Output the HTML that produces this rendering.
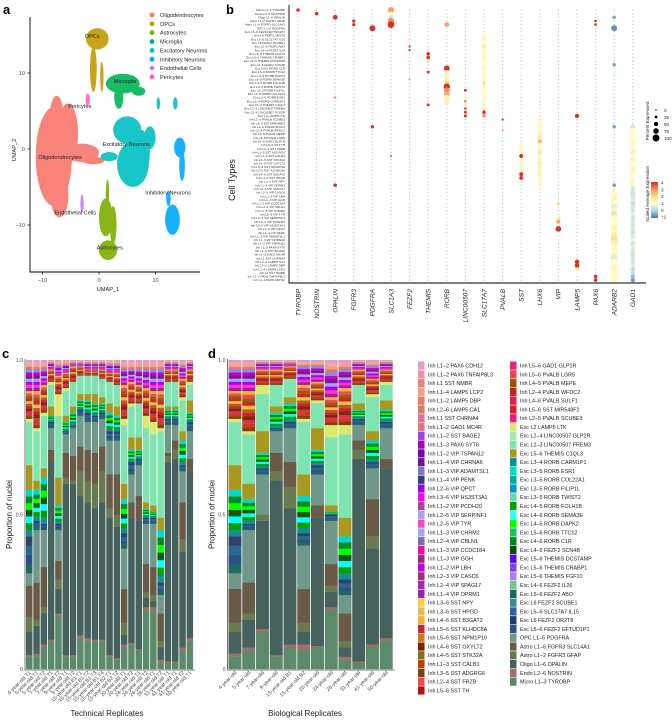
<!DOCTYPE html>
<html><head><meta charset="utf-8">
<style>
html,body{margin:0;padding:0;background:#fff;}
svg{display:block;font-family:"Liberation Sans",sans-serif;}
</style></head>
<body>
<svg id="fig" width="672" height="720" viewBox="0 0 672 720" xmlns="http://www.w3.org/2000/svg">
<g id="pa"></g>
<g id="pb"></g>
<g id="pc"></g>
<g id="pd"></g>
<g id="pl"></g>
</svg>
<script>
// ---------------- DATA ----------------
// Panel a: UMAP clusters as ellipses [u, v, ru, rv] in UMAP units
const clusterNames = ["Oligodendrocytes","OPCs","Astrocytes","Microglia","Excitatory Neurons","Inhibitory Neurons","Endothelial Cells","Pericytes"];
const clusterColors = ["#f8766d","#c49a00","#7cae00","#00b554","#00bfc4","#00a9ff","#c77cff","#ff61cc"];
const shapesOligo = [[-8,-1,3.2,6.5],[-5.5,2,1.8,4],[-3,-0.5,3,1.2],[-7,-6,1.6,3],[-1,-1.5,2,0.5],[-7.5,4.5,1.2,2.5]];
const shapesOPC = [[-0.3,14.5,2,1.4],[-1,10.5,0.6,3],[0.5,9.5,0.3,2]];
const shapesAstro = [[1.6,-13.3,1.6,1.3],[1.2,-9,1.2,2.5],[2.5,-10,0.6,2.5],[1.5,-6,0.3,2]];
const shapesMicro = [[4.2,8.6,3,1.3],[3.5,6.8,0.8,1.5],[7,7.6,1.2,0.6]];
const shapesExc = [[6,-2,2.8,3],[5,2.5,2.5,1.8],[7.5,-0.5,1.5,3],[10.5,6,0.3,0.8],[13.5,6,0.4,0.8],[1.8,-1,1.5,0.6],[9,1.5,1,1.5]];
const shapesInh = [[13,-9.3,1.3,2],[14.3,0.2,1,1.3],[14.7,-2.2,0.5,2],[12.3,-6.5,0.4,1]];
const shapesEndo = [[-3,-7.2,0.3,1.2]];
const shapesPeri = [[-2,6.5,0.4,0.8]];
const clusterLabelU = [-6.9,-1.2,1.9,4.6,4.8,12.2,-4.2,-3.4];
const clusterLabelV = [-1.3,14.6,-13.2,8.7,0.4,-6,-8.6,5.4];
const umapXTicks = [-10,0,10];
const umapYTicks = [10,0,-10];

// Panel b: dot plot
const genes = ["TYROBP","NOSTRIN","OPALIN","FGFR3","PDGFRA","SLC1A3","FEZF2","THEMIS","RORB","LINC00507","SLC17A7","PVALB","SST","LHX6","VIP","LAMP5","PAX6","ADARB2","GAD1"];
const highlightRows = ["Exc L4-5 FEZF2 SCN4B","Exc L4-5 RORB FOLH1B","Exc L3-5 RORB ESR1","Inh L4-6 PVALB SULF1","Inh L1-4 VIP OPRM1"];
// [row, percentExpressed, scaledExpression]
const dotsTYROBP=[[0,40,4]];
const dotsNOSTRIN=[[1,40,4]];
const dotsOPALIN=[[2,60,4],[24,20,3],[48,40,4]];
const dotsFGFR3=[[3,35,4],[4,35,4]];
const dotsPDGFRA=[[5,80,4],[32,35,4],[20,15,1.5],[10,15,1.8]];
const dotsSLC1A3=[[0,80,2.8],[1,40,1],[2,60,0.5],[3,85,3],[4,90,4],[22,25,1],[40,20,-0.6]];
const dotsFEZF2=[[8,20,2],[10,20,4],[11,20,4],[19,15,3]];
const dotsTHEMIS=[[12,40,4],[13,40,4],[14,30,2],[17,30,4],[26,30,4]];
const dotsRORB=[[4,60,2.8],[16,75,4],[17,50,1.5],[18,50,1.5],[19,55,1.5],[20,60,2],[21,85,4],[22,75,3],[23,70,2.8],[24,75,1.5],[25,70,1.5]];
const dotsLINC00507=[[22,30,4],[25,30,3],[27,30,3.5],[28,30,4],[29,30,4]];
const dotsSLC17A7=[[7,50,1.2],[8,50,1.4],[9,45,1.1],[10,50,1.6],[11,45,1.2],[12,50,1.3],[13,45,1.5],[14,50,1.2],[15,45,1.1],[16,50,1.3],[17,45,1.2],[18,50,1.1],[19,45,1.3],[20,45,2],[21,50,1.2],[22,45,1.1],[23,50,1],[24,45,1.2],[25,45,1.1],[26,45,1.3],[27,45,1.5],[28,40,4],[29,40,3]];
const dotsPVALB=[[30,20,4],[33,15,3]];
const dotsSST=[[37,35,1.3],[38,40,1.2],[39,40,1.4],[40,45,4],[41,40,1.2],[42,35,0.8],[43,40,1.3],[44,40,1.5],[45,45,4],[46,45,4],[47,35,1.2]];
const dotsLHX6=[[30,45,1.3],[31,45,1.2],[32,50,1.4],[33,45,1.2],[34,45,1.5],[35,50,1.6],[36,50,2.5],[37,45,1.3],[38,45,1.2],[39,45,1.8],[40,45,1.3],[41,45,1.5],[42,50,1.6],[43,45,1.4],[44,45,1.3],[45,45,1.5],[46,45,1.3],[47,45,1.4],[48,40,1.2],[71,20,1.2]];
const dotsVIP=[[53,40,2],[57,40,1.8],[58,45,2.8],[60,75,4],[61,20,1.2]];
const dotsLAMP5=[[29,50,4],[58,20,1],[69,55,4],[70,55,4],[71,40,1.5],[72,30,1.2]];
const dotsPAX6=[[3,25,4],[4,25,4],[73,40,4],[74,40,4]];
const dotsADARB2=[[2,40,-0.5],[5,80,-0.7],[15,40,-0.5],[32,40,-0.5],[48,40,-0.6],[50,90,1.2],[51,90,1.1],[52,90,1.3],[53,90,1],[54,85,0.6],[55,90,1.2],[56,90,0.5],[57,90,1.2],[58,85,1],[59,90,1.1],[60,90,1.3],[61,90,1.2],[62,90,1.6],[63,90,1.9],[64,90,1.5],[65,90,1.2],[66,90,1.1],[67,90,1.2],[68,90,0.6],[69,90,1],[70,90,1.1],[71,90,1.3],[72,90,1.2],[73,90,1.1],[74,90,1.2]];
const dotsGAD1=[[32,60,0.4],[33,60,1.1],[34,60,1.2],[35,60,1],[36,60,1.3],[37,60,1.2],[38,60,0.9],[39,60,1.6],[40,60,1.1],[41,60,0.7],[42,60,1],[43,60,1.2],[44,60,1.5],[45,60,1.1],[46,60,1],[47,60,0.8],[48,60,1.2],[49,55,0.4],[50,55,0.3],[51,60,0.5],[52,55,0.6],[53,55,0.2],[54,60,0.5],[55,55,0.4],[56,55,0.7],[57,55,0.3],[58,55,0.5],[59,55,0.4],[60,55,0.6],[61,55,0.3],[62,55,0.5],[63,55,0.8],[64,55,0.4],[65,55,0.6],[66,55,0.5],[67,55,0.3],[68,55,0.5],[69,55,0.4],[70,55,0.6],[71,55,0.2],[72,55,0.3],[73,50,-0.3],[74,50,-0.6]];
const dotSets=[dotsTYROBP,dotsNOSTRIN,dotsOPALIN,dotsFGFR3,dotsPDGFRA,dotsSLC1A3,dotsFEZF2,dotsTHEMIS,dotsRORB,dotsLINC00507,dotsSLC17A7,dotsPVALB,dotsSST,dotsLHX6,dotsVIP,dotsLAMP5,dotsPAX6,dotsADARB2,dotsGAD1];
const pctLegend=[0,25,50,75,100];
const exprLegend=[4,3,2,1,0,-1];

// Legend cell types (order as in legend)
const cellTypes=["Inh L1\u20132 PAX6 CDH12","Inh L1\u20132 PAX6 TNFAIP8L3","Inh L1 SST NMBR","Inh L1\u20134 LAMP5 LCP2","Inh L1\u20132 LAMP5 DBP","Inh L2\u20136 LAMP5 CA1","Inh L1 SST CHRNA4","Inh L1\u20132 GAD1 MC4R","Inh L1\u20132 SST BAGE2","Inh L1\u20133 PAX6 SYT6","Inh L1\u20132 VIP TSPAN12","Inh L1\u20134 VIP CHRNA6","Inh L1\u20133 VIP ADAMTSL1","Inh L1\u20134 VIP PENK","Inh L2\u20136 VIP QPCT","Inh L3\u20136 VIP HS3ST3A1","Inh L1\u20132 VIP PCDH20","Inh L2\u20135 VIP SERPINF1","Inh L2\u20135 VIP TYR","Inh L1\u20133 VIP CHRM2","Inh L2\u20134 VIP CBLN1","Inh L1\u20133 VIP CCDC184","Inh L1\u20133 VIP GGH","Inh L1\u20132 VIP LBH","Inh L2\u20133 VIP CASC6","Inh L2\u20134 VIP SPAG17","Inh L1\u20134 VIP OPRM1","Inh L3\u20136 SST NPY","Inh L3\u20136 SST HPGD","Inh L4\u20136 SST B3GAT2","Inh L5\u20136 SST KLHDC8A","Inh L5\u20136 SST NPM1P10","Inh L4\u20136 SST GXYLT2","Inh L4\u20135 SST STK32A","Inh L1\u20133 SST CALB1","Inh L3\u20135 SST ADGRG6","Inh L2\u20134 SST FRZB","Inh L5\u20136 SST TH",
"Inh L5\u20136 GAD1 GLP1R","Inh L5\u20136 PVALB LGR5","Inh L4\u20135 PVALB MEPE","Inh L2\u20134 PVALB WFDC2","Inh L4\u20136 PVALB SULF1","Inh L5\u20136 SST MIR548F2","Inh L2\u20135 PVALB SCUBE3","Exc L2 LAMP5 LTK","Exc L2\u20134 LINC00507 GLP2R","Exc L2\u20133 LINC00507 FREM3","Exc L5\u20136 THEMIS C1QL3","Exc L3\u20134 RORB CARM1P1","Exc L3\u20135 RORB ESR1","Exc L3\u20135 RORB COL22A1","Exc L3\u20135 RORB FILIP1L","Exc L3\u20135 RORB TWIST2","Exc L4\u20135 RORB FOLH1B","Exc L4\u20136 RORB SEMA3E","Exc L4\u20135 RORB DAPK2","Exc L5\u20136 RORB TTC12","Exc L4\u20136 RORB C1R","Exc L4\u20135 FEZF2 SCN4B","Exc L5\u20136 THEMIS DCSTAMP","Exc L5\u20136 THEMIS CRABP1","Exc L5\u20136 THEMIS FGF10","Exc L4\u20136 FEZF2 IL26","Exc L5\u20136 FEZF2 ABO","Exc L6 FEZF2 SCUBE1","Exc L5\u20136 SLC17A7 IL15","Exc L6 FEZF2 OR2T8","Exc L5\u20136 FEZF2 EFTUD1P1","OPC L1\u20136 PDGFRA","Astro L1\u20136 FGFR3 SLC14A1","Astro L1\u20132 FGFR3 GFAP","Oligo L1\u20136 OPALIN","Endo L2\u20136 NOSTRIN","Micro L1\u20133 TYROBP"];
const cellColors=["#d9a0c8","#f48fb1","#e8827a","#f5a080","#f47860","#d08060","#e070a0","#f07080","#a040f0","#a000b0","#7000c0","#7a1090","#7878c0","#3a3a7a","#a000f0","#ff00ff","#b040a0","#b0a0f0","#ff40c0","#a0a8f8","#7a70b0","#ff00a0","#b02080","#c000e0","#a03080","#b020c0","#a020a0","#f8d040","#d8c060","#f8b030","#d02040","#c88010","#802000","#807010","#c04000","#804010","#f04848","#b01010",
"#f02080","#e84850","#a05000","#c02818","#e02050","#e02020","#f01880","#d8ea70","#a8e8a8","#80e4b0","#a89820","#00909a","#00e0c8","#00b0a8","#0098c8","#70d8b0","#00a000","#30ffff","#00ff00","#20c060","#008a20","#0a4a0a","#6000f0","#8040f0","#b080f0","#70c890","#1a6a60","#3a8a9a","#3060a0","#203a6a","#30508a","#70988a","#6a5a48","#6a7a50","#46625e","#9a7068","#5a8a6a"];

// Panel c/d stacked bars: cumulative share (top of each group, bottom to top)
const techLabels=["4-year-old T1","5-year-old T1","5-year-old T2","7-year-old T1","7-year-old T2","9-year-old T1","9-year-old T2","15-year-old B1 T1","15-year-old B1 T2","15-year-old B1 T3","15-year-old B1 T4","15-year-old B2 T1","15-year-old B2 T2","20-year-old T1","20-year-old T2","24-year-old T1","24-year-old T2","26-year-old T1","26-year-old T2","31-year-old T1","41-year-old T1","41-year-old T2","50-year-old T1"];
const cMicro=[.04,.04,.07,.09,.17,.04,.04,.10,.09,.09,.09,.04,.03,.07,.08,.06,.19,.19,.02,.02,.02,.06,.09];
const cEndo=[.045,.05,.08,.095,.18,.045,.045,.11,.10,.095,.095,.045,.035,.08,.085,.065,.20,.20,.03,.025,.025,.07,.10];
const cOligo=[.12,.14,.18,.67,.26,.60,.60,.56,.54,.52,.54,.49,.46,.11,.49,.48,.23,.22,.07,.67,.68,.38,.64];
const cAstroG=[.17,.16,.20,.67,.29,.62,.61,.64,.61,.60,.64,.52,.50,.15,.49,.48,.25,.24,.09,.69,.71,.42,.64];
const cAstroS=[.27,.28,.33,.71,.35,.70,.69,.72,.71,.70,.72,.63,.63,.26,.54,.56,.34,.33,.18,.70,.74,.54,.68];
const cOPC=[.31,.45,.45,.78,.45,.76,.78,.82,.80,.80,.81,.74,.74,.39,.63,.66,.47,.47,.24,.79,.79,.64,.77];
const cDeep=[.43,.48,.47,.80,.47,.77,.79,.84,.83,.82,.83,.77,.77,.44,.67,.68,.49,.49,.28,.81,.81,.66,.80];
const cGreen=[.58,.58,.62,.82,.53,.80,.83,.87,.87,.86,.86,.83,.82,.55,.71,.71,.52,.51,.45,.84,.84,.74,.83];
const cOlive=[.66,.61,.65,.85,.62,.82,.85,.89,.89,.89,.88,.86,.85,.60,.75,.75,.54,.53,.49,.85,.85,.77,.87];
const cFrem3=[.80,.77,.82,.92,.82,.90,.93,.95,.95,.95,.94,.93,.92,.79,.85,.86,.78,.76,.77,.93,.93,.87,.92];
const cLamp=[.81,.78,.83,.93,.89,.91,.93,.95,.95,.95,.94,.93,.92,.81,.86,.86,.82,.80,.78,.93,.93,.88,.93];
const cRed=[.90,.90,.92,.97,.95,.96,.98,.98,.97,.97,.97,.96,.96,.92,.93,.92,.91,.90,.90,.97,.97,.94,.97];
const cPurple=[.97,.97,.97,.99,.98,.985,.99,.99,.99,.99,.99,.985,.985,.97,.97,.97,.97,.97,.97,.99,.99,.98,.99];

const bioLabels=["4-year-old","5-year-old","7-year-old","9-year-old","15-year-old B1","15-year-old B2","20-year-old","24-year-old","26-year-old","31-year-old","41-year-old","50-year-old"];
const dMicro=[.04,.06,.12,.04,.07,.06,.07,.19,.03,.02,.07,.09];
const dEndo=[.05,.07,.13,.045,.08,.08,.075,.20,.04,.025,.08,.10];
const dOligo=[.12,.16,.48,.61,.52,.12,.49,.25,.07,.68,.39,.65];
const dAstroG=[.15,.18,.50,.64,.59,.15,.49,.27,.09,.71,.43,.65];
const dAstroS=[.26,.28,.50,.70,.67,.26,.53,.34,.18,.74,.55,.68];
const dOPC=[.31,.45,.63,.77,.78,.40,.63,.48,.24,.79,.65,.78];
const dDeep=[.43,.47,.65,.78,.80,.44,.66,.50,.29,.81,.67,.80];
const dGreen=[.58,.55,.70,.83,.86,.56,.71,.51,.43,.84,.74,.84];
const dOlive=[.66,.60,.77,.85,.88,.63,.78,.53,.49,.86,.77,.87];
const dFrem3=[.80,.76,.89,.92,.94,.80,.86,.75,.76,.92,.88,.92];
const dLamp=[.81,.77,.92,.92,.94,.81,.87,.79,.79,.92,.89,.93];
const dRed=[.90,.90,.97,.97,.98,.92,.93,.88,.91,.97,.94,.97];
const dPurple=[.97,.97,.99,.99,.99,.98,.98,.96,.97,.99,.98,.99];
const propTicks=[0,0.5,1.0];

// ---------------- HELPERS ----------------
const NS="http://www.w3.org/2000/svg";
function mk(parent,tag,attrs,txt){const e=document.createElementNS(NS,tag);for(const k in attrs)e.setAttribute(k,attrs[k]);if(txt!==undefined)e.textContent=txt;parent.appendChild(e);return e;}
const fig=document.getElementById('fig');

// panel letters
[["a",3,14],["b",226,14],["c",2,358],["d",208,358]].forEach(p=>{
  const t=mk(fig,'text',{x:p[1],y:p[2],'font-size':13,'font-weight':'bold',fill:'#000'},p[0]);
  
  
});

// ---------------- PANEL A ----------------
(function(){
  const g=document.getElementById('pa');
  const ux=u=>99+5.65*u, vy=v=>149-7.6*v;
  const sets=[shapesOligo,shapesOPC,shapesAstro,shapesMicro,shapesExc,shapesInh,shapesEndo,shapesPeri];
  sets.forEach((s,ci)=>{
    const cg=mk(g,'g',{fill:clusterColors[ci],opacity:0.9});
    
    
    s.forEach(e=>{mk(cg,'ellipse',{cx:ux(e[0]),cy:vy(e[1]),rx:e[2]*5.65,ry:e[3]*7.6});});
  });
  clusterNames.forEach((n,i)=>{
    const t=mk(g,'text',{x:ux(clusterLabelU[i]),y:vy(clusterLabelV[i]),'font-size':5.6,'text-anchor':'middle',fill:'#222'},n);
    
    
  });
  const ax=mk(g,'path',{d:'M30,17 V272 H200',stroke:'#000','stroke-width':0.9,fill:'none'});
  
  
  umapXTicks.forEach(t=>{mk(g,'line',{x1:ux(t),x2:ux(t),y1:272,y2:274.5,stroke:'#000','stroke-width':0.7});
    const l=mk(g,'text',{x:ux(t),y:282,'font-size':5.6,'text-anchor':'middle',fill:'#444'},t===-10?'\u221210':t);
    
    });
  umapYTicks.forEach(t=>{mk(g,'line',{x1:27.5,x2:30,y1:vy(t),y2:vy(t),stroke:'#000','stroke-width':0.7});
    const l=mk(g,'text',{x:25,y:vy(t)+2,'font-size':5.6,'text-anchor':'end',fill:'#444'},t===-10?'\u221210':t);
    
    });
  const xt=mk(g,'text',{x:108,y:291,'font-size':5.6,'text-anchor':'middle',fill:'#222'},'UMAP_1');
  
  
  const yt=mk(g,'text',{x:0,y:0,'font-size':5.6,'text-anchor':'middle',fill:'#222',transform:'translate(16,150) rotate(-90)'},'UMAP_2');
  
  
  clusterNames.forEach((n,i)=>{
    const le=mk(g,'g',{});
    
    
    const y=15+8.85*i;
    mk(le,'circle',{cx:152,cy:y,r:2.4,fill:clusterColors[i]});
    mk(le,'text',{x:160,y:y+2,'font-size':5.6,fill:'#222'},n);
  });
})();

// ---------------- PANEL B ----------------
(function(){
  const g=document.getElementById('pb');
  const rowNames=cellTypes.slice().reverse();
  const colX=i=>298+18.6*i, rowY=r=>10+3.65*r;
  const stops=[[-1,[69,117,180]],[0,[171,213,233]],[1,[255,255,200]],[2,[254,224,139]],[3,[252,141,89]],[4,[215,48,39]]];
  function col(v){v=Math.max(-1,Math.min(4,v));for(let i=0;i<stops.length-1;i++){const a=stops[i],b=stops[i+1];if(v<=b[0]){const t=(v-a[0])/(b[0]-a[0]);return 'rgb('+a[1].map((c,k)=>Math.round(c+(b[1][k]-c)*t)).join(',')+')';}}return 'rgb(215,48,39)';}
  const rad=p=>0.55+p/100*3.1;
  rowNames.forEach((n,r)=>{
    const hi=highlightRows.indexOf(n)>=0;
    if(hi) mk(g,'rect',{x:252,y:rowY(r)-1.6,width:33,height:3.2,fill:'#f4d0d0'});
    const t=mk(g,'text',{x:285,y:rowY(r)+1.1,'font-size':3.1,'text-anchor':'end',fill:hi?'#e00000':'#333','font-weight':hi?'bold':'normal'},n);
    
    
  });
  // background dots
  const bg=mk(g,'g',{fill:'#9cc7e2'});
  
  
  genes.forEach((gn,c)=>{rowNames.forEach((n,r)=>{mk(bg,'circle',{cx:colX(c),cy:rowY(r),r:0.6});});});
  dotSets.forEach((set,c)=>{
    set.forEach(d=>{
      const el=mk(g,'circle',{cx:colX(c),cy:rowY(d[0]),r:rad(d[1]),fill:col(d[2])});
      
      
    });
  });
  const ax=mk(g,'path',{d:'M289,5 V283 H646',stroke:'#000','stroke-width':0.9,fill:'none'});
  
  
  genes.forEach((gn,c)=>{
    const t=mk(g,'text',{x:0,y:0,'font-size':6.6,'font-style':'italic','text-anchor':'end',fill:'#222',transform:'translate('+(colX(c)+2.3)+',289) rotate(-90)'},gn);
    
    
  });
  const yt=mk(g,'text',{x:0,y:0,'font-size':9,'text-anchor':'middle',fill:'#222',transform:'translate(235,180) rotate(-90)'},'Cell Types');
  
  
  // percent legend
  const pl=mk(g,'g',{});
  
  
  mk(pl,'text',{x:0,y:0,'font-size':4.6,'text-anchor':'middle',fill:'#222',transform:'translate(649,121) rotate(-90)'},'Percent Expressed');
  pctLegend.forEach((p,i)=>{const y=110+7*i;mk(pl,'circle',{cx:656,cy:y,r:rad(p)*0.9+0.2,fill:'#000'});mk(pl,'text',{x:664,y:y+1.8,'font-size':4.6,fill:'#222'},p);});
  // colour legend
  const cl=mk(g,'g',{});
  
  
  mk(cl,'text',{x:0,y:0,'font-size':4.6,'text-anchor':'middle',fill:'#222',transform:'translate(649,194) rotate(-90)'},'Scaled Average Expression');
  const defs=mk(g,'defs',{});const lg=mk(defs,'linearGradient',{id:'cg',x1:0,y1:1,x2:0,y2:0});
  stops.forEach(s=>mk(lg,'stop',{offset:((s[0]+1)/5),'stop-color':'rgb('+s[1].join(',')+')'}));
  const y4=183,y1=217,vy=v=>y1-(v+1)/5*(y1-y4);
  mk(cl,'rect',{x:651,y:y4-1,width:7,height:y1-y4+2,fill:'url(#cg)'});
  exprLegend.forEach(v=>{mk(cl,'text',{x:661,y:vy(v)+1.6,'font-size':4.6,fill:'#222'},v<0?'\u22121':v);});
})();

// ---------------- PANELS C & D ----------------
const deepCols=['#1e6a64','#2e4f8a','#256a8a','#33406e'];
const greenCols=['#109090','#00a000','#00ffff','#0a5a0a','#00ff00','#008a20','#00d8c8'];
const redCols=['#8b3a0f','#c8401a','#e03050','#7a2c08','#d2202e','#b06018','#f0c040','#c82828','#9a5a10','#e85050','#f8b030'];
const purpleCols=['#9b1fa5','#ff33cc','#b300e6','#a0a0ff','#7a1a8a','#c000c0','#8888ee'];
const pinkCols=['#e07868','#f4a080','#f8a0b0','#d8a0c0'];
function stacked(gid,x0,step,yTop,yBot,labels,series,xTitle,titleX){
  const g=document.getElementById(gid);
  const yS=v=>yBot-(yBot-yTop)*v;
  const segs=[[null,'#5a8a6a'],[null,'#9a7068'],[null,'#46625e'],[null,'#6a7a50'],[null,'#6a5a48'],[null,'#70988a'],[deepCols],[greenCols],[null,'#a89820'],[null,'#80e4b0'],[null,'#d8ea70'],[redCols],[purpleCols]];
  labels.forEach((lb,i)=>{
    const bg=mk(g,'g',{});
    
    
    const x=x0+step*i, w=step-0.8;
    let prev=0;
    const tops=series.map(s=>s[i]).concat([1]);
    const allSegs=segs.concat([[pinkCols]]);
    tops.forEach((top,k)=>{
      const lo=prev, hi=Math.max(top,prev); prev=hi;
      if(hi-lo<=0)return;
      const sg=allSegs[k];
      if(sg[0]===null){mk(bg,'rect',{x:x,y:yS(hi),width:w,height:yS(lo)-yS(hi)+0.2,fill:sg[1]});}
      else{const cs=sg[0];const n=cs.length;const h=(hi-lo)/n;
        cs.forEach((c,j)=>mk(bg,'rect',{x:x,y:yS(lo+h*(j+1)),width:w,height:yS(lo+h*j)-yS(lo+h*(j+1))+0.2,fill:c}));}
    });
    const t=mk(g,'text',{x:0,y:0,'font-size':5.2,'text-anchor':'end',fill:'#444',transform:'translate('+(x+w/2+2)+','+(yBot+4)+') rotate(-45)'},lb);
    
    
  });
  const xEnd=x0+step*labels.length;
  const ax=mk(g,'path',{d:'M'+(x0-1)+','+(yTop-1)+' V'+(yBot+1)+' H'+(xEnd+1),stroke:'#555','stroke-width':0.8,fill:'none'});
  
  
  propTicks.forEach(t=>{const l=mk(g,'text',{x:x0-3,y:yS(t)+2,'font-size':5.2,'text-anchor':'end',fill:'#444'},t===1?'1.0':t);
    
    });
  const yt=mk(g,'text',{x:0,y:0,'font-size':8,'text-anchor':'middle',fill:'#222',transform:'translate('+(x0-14)+','+((yTop+yBot)/2)+') rotate(-90)'},'Proportion of nuclei');
  
  
  const xt=mk(g,'text',{x:titleX,y:716,'font-size':8,'text-anchor':'middle',fill:'#222'},xTitle);
  
  
}
stacked('pc',26,7.3,360,669,techLabels,[cMicro,cEndo,cOligo,cAstroG,cAstroS,cOPC,cDeep,cGreen,cOlive,cFrem3,cLamp,cRed,cPurple],'Technical Replicates',107);
stacked('pd',228.5,13.75,360,669,bioLabels,[dMicro,dEndo,dOligo,dAstroG,dAstroS,dOPC,dDeep,dGreen,dOlive,dFrem3,dLamp,dRed,dPurple],'Biological Replicates',305);

// ---------------- LEGEND ----------------
(function(){
  const g=document.getElementById('pl');
  cellTypes.forEach((n,i)=>{
    const c=i<38?0:1, r=i<38?i:i-38;
    const x=c===0?418:510, y=361.5+8.78*r;
    const e=mk(g,'g',{});
    
    
    mk(e,'rect',{x:x,y:y,width:6.5,height:8.2,fill:cellColors[i]});
    mk(e,'text',{x:x+10,y:y+6,'font-size':5.4,fill:'#222'},n);
  });
})();
</script>
</body></html>
